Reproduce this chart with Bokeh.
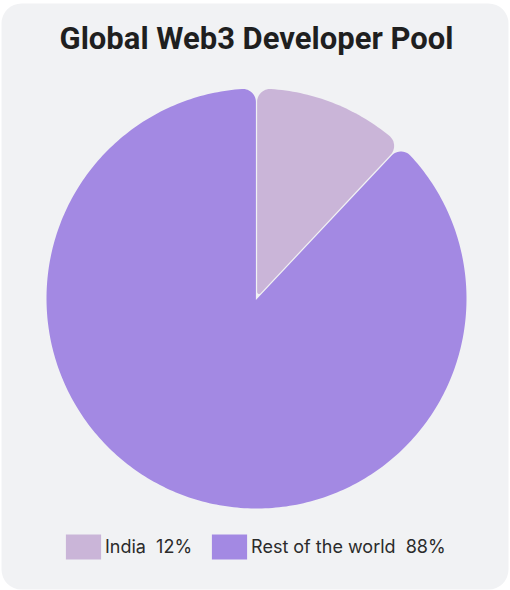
import numpy as np
from bokeh.plotting import figure
from bokeh.models import ColumnDataSource, Range1d, BoxAnnotation, Label, Legend, LegendItem
from bokeh.embed import file_html
from bokeh.resources import INLINE

# ---- data ----
categories = ["India", "Rest of the world"]
shares = [12, 88]
colors = ["#cab5d8", "#a389e3"]
title_text = "Global Web3 Developer Pool"

# ---- geometry (pixel-like data units) ----
W, H = 510, 590
CX, CY, R = 256, 292, 210
RC_OUT, RC_IN, GAP = 13.0, 2.0, 0.6


def arc_pts(c, rad, a_from, a_to, n):
    t = np.linspace(a_from, a_to, n)
    return np.column_stack([c[0] + rad * np.cos(t), c[1] + rad * np.sin(t)])


def short_arc(c, rad, p_from, p_to, n=16):
    a = np.arctan2(p_from[1] - c[1], p_from[0] - c[0])
    b = np.arctan2(p_to[1] - c[1], p_to[0] - c[0])
    d = (b - a + np.pi) % (2 * np.pi) - np.pi
    return arc_pts(c, rad, a, a + d, n)


def rounded_wedge(a0, a1):
    u0 = np.array([np.cos(a0), np.sin(a0)])
    n0 = np.array([np.sin(a0), -np.cos(a0)])
    u1 = np.array([np.cos(a1), np.sin(a1)])
    n1 = np.array([-np.sin(a1), np.cos(a1)])
    sweep = a0 - a1
    s = GAP + RC_OUT
    t = np.sqrt((R - RC_OUT) ** 2 - s ** 2)
    C0 = t * u0 + s * n0
    T0 = t * u0 + GAP * n0
    C1 = t * u1 + s * n1
    T1 = t * u1 + GAP * n1
    dphi = np.arctan2(s, t)
    phi0 = a0 - dphi
    phi1 = a1 + dphi
    A0 = R * np.array([np.cos(phi0), np.sin(phi0)])
    A1 = R * np.array([np.cos(phi1), np.sin(phi1)])
    parts = [short_arc(C0, RC_OUT, T0, A0),
             arc_pts((0, 0), R, phi0, phi1, max(20, int(abs(phi0 - phi1) * 60))),
             short_arc(C1, RC_OUT, A1, T1)]
    M = np.array([n0, n1])
    if sweep < np.pi:
        C = np.linalg.solve(M, np.array([GAP + RC_IN, GAP + RC_IN]))
        P1 = C - RC_IN * n1
        P0 = C - RC_IN * n0
        parts.append(short_arc(C, RC_IN, P1, P0, 8))
    else:
        P = np.linalg.solve(M, np.array([GAP, GAP]))
        parts.append(P.reshape(1, 2))
    pts = np.vstack(parts)
    return pts[:, 0] + CX, pts[:, 1] + CY


total = float(sum(shares))
xs, ys = [], []
start = np.pi / 2
for sh in shares:
    end = start - sh / total * 2 * np.pi
    x, y = rounded_wedge(start, end)
    xs.append(x)
    ys.append(y)
    start = end

labels = [f"{c}\u00a0\u00a0{s}%" for c, s in zip(categories, shares)]
src = ColumnDataSource(dict(xs=xs, ys=ys, color=colors, category=categories,
                            share=shares, label=labels))

p = figure(width=W, height=H, x_range=Range1d(0, W), y_range=Range1d(0, H),
           output_backend="svg", toolbar_location=None,
           x_axis_location=None, y_axis_location=None, min_border=0,
           background_fill_color="white", border_fill_color="white",
           outline_line_color=None)
p.grid.visible = False

card = BoxAnnotation(left=1, right=508, bottom=H - 589, top=H - 3,
                     border_radius=20, fill_color="#f1f2f4", fill_alpha=1.0,
                     line_color=None, level="underlay")
p.add_layout(card)

pie = p.patches("xs", "ys", source=src, fill_color="color", line_color=None)

title = Label(x=256, y=H - 38, text=title_text, text_align="center",
              text_baseline="alphabetic", text_font="Roboto",
              text_font_size="31px", text_font_style="bold", text_color="#1f1f1f")
p.add_layout(title)

items = [LegendItem(label=lab, renderers=[pie], index=i) for i, lab in enumerate(labels)]

legend = Legend(items=items, orientation="horizontal", location=(61, 28),
                glyph_width=44, glyph_height=31, label_standoff=0, spacing=15,
                padding=0, margin=0, border_line_color=None, background_fill_alpha=0,
                label_text_font="Inter", label_text_font_size="18px",
                label_text_color="#2b2b2b", label_height=31)
p.add_layout(legend)

open("out.html", "w").write(file_html(p, INLINE))
